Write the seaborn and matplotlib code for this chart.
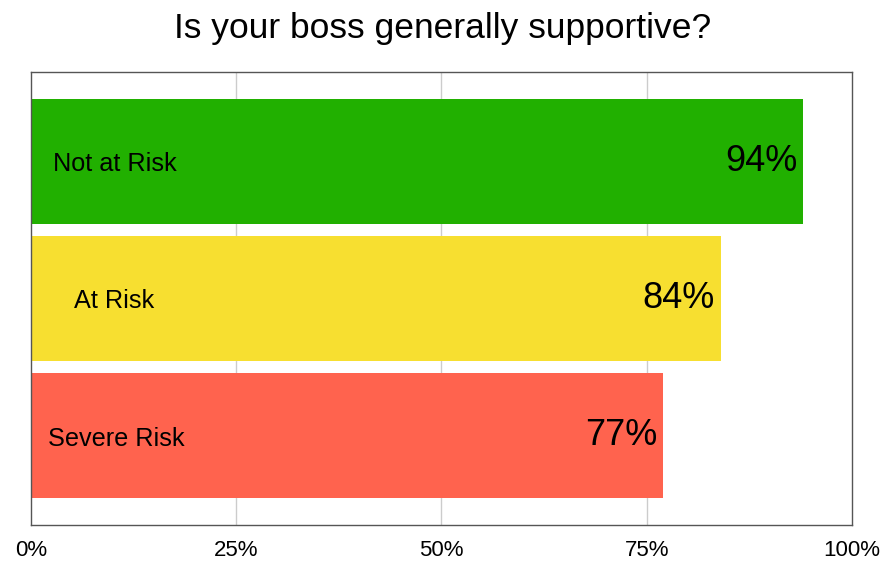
import matplotlib
matplotlib.use("Agg")
import matplotlib.pyplot as plt
import seaborn as sns
import pandas as pd

# Survey results: share answering "yes" per risk group
groups = ["Not at Risk", "At Risk", "Severe Risk"]
supportive_pct = [94, 84, 77]
bar_colors = ["#21B000", "#F7DF30", "#FF634E"]
label_offsets = [2.7, 5.2, 2.1]  # x position of group names inside the bars
x_ticks = [0, 25, 50, 75, 100]
x_tick_labels = ["0%", "25%", "50%", "75%", "100%"]
title = "Is your boss generally supportive?"

sns.set_theme(style="white")
plt.rcParams["font.family"] = ["Liberation Sans", "DejaVu Sans"]

df = pd.DataFrame({"group": groups, "pct": supportive_pct})

fig = plt.figure(figsize=(8.85, 5.62), dpi=100)
ax = fig.add_axes([31 / 885, 37 / 562, 821 / 885, 453 / 562])

sns.barplot(data=df, y="group", x="pct", hue="group", palette=bar_colors,
            order=groups, hue_order=groups, orient="h", width=0.91,
            saturation=1, legend=False, ax=ax, zorder=2, linewidth=0)

ax.set_xlim(0, 100)
ax.set_ylim(2.65, -0.65)
ax.set_xticks(x_ticks)
ax.set_xticklabels(x_tick_labels, fontsize=16)
ax.tick_params(axis="x", length=0, pad=11, colors="black")
ax.set_yticks([])
ax.set_xlabel("")
ax.set_ylabel("")

for xv in x_ticks[1:-1]:
    ax.axvline(xv, color="#CCCCCC", linewidth=1, zorder=1)

for spine in ax.spines.values():
    spine.set_visible(True)
    spine.set_color("#555555")
    spine.set_linewidth(1)

for i, (name, val, off) in enumerate(zip(groups, supportive_pct, label_offsets)):
    ax.text(off, i + 0.02, name, ha="left", va="center", fontsize=18.2,
            color="black", zorder=3)
    ax.annotate(f"{val}%", xy=(val, i), xytext=(-4, 0),
                textcoords="offset points", ha="right", va="center",
                fontsize=26, color="black", zorder=3)

fig.suptitle(title, x=0.5, y=0.978, va="top", fontsize=25.5, color="black")

fig.savefig("out.png", dpi=100, facecolor="white")
